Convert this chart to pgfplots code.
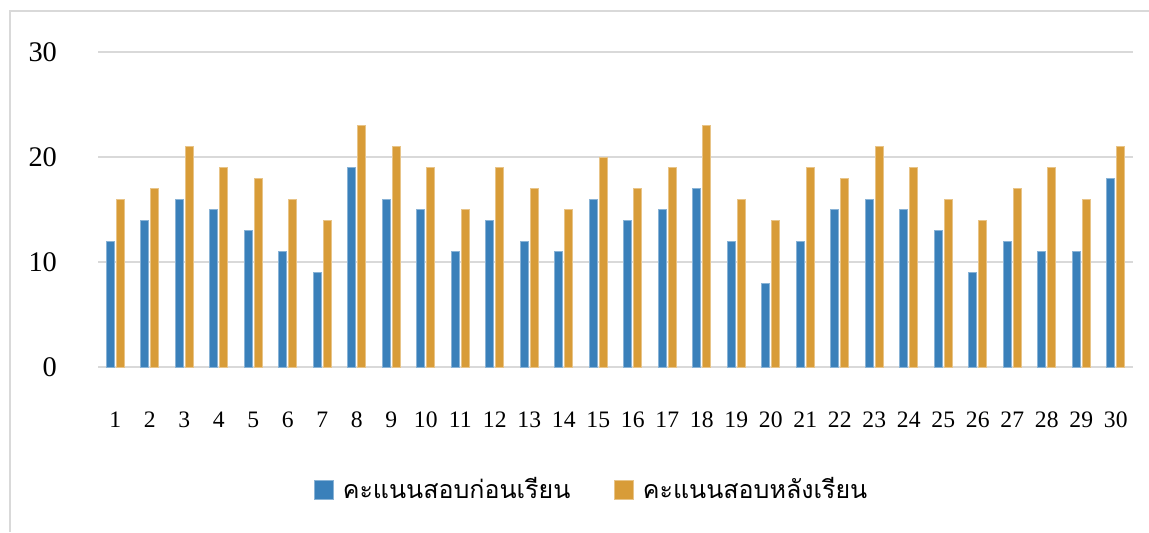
\documentclass[border=0pt]{standalone}
\usepackage{pgfplots}
\pgfplotsset{compat=1.18}
\usepackage{fontspec}
\setmainfont{Liberation Serif}
\newfontfamily\thaifont[Script=Thai]{Loma}
\definecolor{cblue}{HTML}{3A80BA}
\definecolor{corange}{HTML}{D89C38}
\definecolor{gridc}{HTML}{D9D9D9}
\begin{document}
\begin{tikzpicture}
\useasboundingbox (0pt,0pt) rectangle (574.5pt,266pt);
\draw[gridc, line width=1pt] (5pt,0pt) -- (5pt,260.5pt) -- (574.5pt,260.5pt);
\begin{axis}[
  at={(49pt,82.5pt)}, anchor=south west,
  scale only axis, width=517.5pt, height=157.5pt,
  ymin=0, ymax=30, ytick={0,10,20,30},
  xmin=0.5, xmax=30.5, xtick={1,...,30},
  axis line style={draw=none},
  major tick length=0pt,
  ymajorgrids, grid style={gridc, line width=1pt},
  ybar, bar width=4pt,
  /pgf/number format/assume math mode=true,
  yticklabel style={font=\fontsize{14.2}{16}\selectfont, anchor=east, xshift=-17pt},
  xticklabel style={font=\fontsize{11.8}{14}\selectfont, yshift=-19pt},
  legend style={draw=none, at={(0.478,-0.39)}, anchor=center, legend columns=2,
    font=\thaifont\fontsize{12.5}{15}\selectfont,
    /tikz/every odd column/.append style={column sep=2.5pt},
    /tikz/every even column/.append style={column sep=20pt}},
  legend image code/.code={\fill[#1] (0pt,-4.5pt) rectangle (9.5pt,5pt);},
]
\addplot[fill=cblue, draw=cblue!60!white, line width=0.3pt, bar shift=-2.5pt] coordinates {
(1,12) (2,14) (3,16) (4,15) (5,13) (6,11) (7,9) (8,19) (9,16) (10,15)
(11,11) (12,14) (13,12) (14,11) (15,16) (16,14) (17,15) (18,17) (19,12) (20,8)
(21,12) (22,15) (23,16) (24,15) (25,13) (26,9) (27,12) (28,11) (29,11) (30,18)};
\addplot[fill=corange, draw=corange!60!white, line width=0.3pt, bar shift=2.5pt] coordinates {
(1,16) (2,17) (3,21) (4,19) (5,18) (6,16) (7,14) (8,23) (9,21) (10,19)
(11,15) (12,19) (13,17) (14,15) (15,20) (16,17) (17,19) (18,23) (19,16) (20,14)
(21,19) (22,18) (23,21) (24,19) (25,16) (26,14) (27,17) (28,19) (29,16) (30,21)};
\legend{คะแนนสอบก่อนเรียน, คะแนนสอบหลังเรียน}
\end{axis}
\end{tikzpicture}
\end{document}
